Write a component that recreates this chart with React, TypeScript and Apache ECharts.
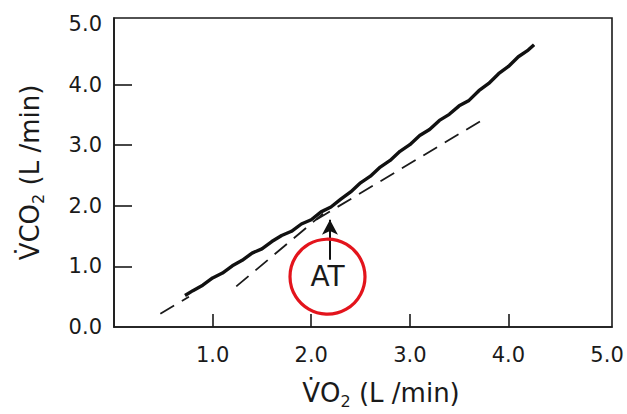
import React, { useEffect, useRef } from "react";
import * as echarts from "echarts";

// Measured VO2 / VCO2 trace (L/min)
const vo2 = [0.72, 0.8, 0.9, 1.0, 1.1, 1.2, 1.3, 1.4, 1.5, 1.6, 1.7, 1.8, 1.9, 2.0, 2.1, 2.2, 2.3, 2.4, 2.5, 2.6, 2.7, 2.8, 2.9, 3.0, 3.1, 3.2, 3.3, 3.4, 3.5, 3.6, 3.7, 3.8, 3.9, 4.0, 4.1, 4.2, 4.26];
const vco2 = [0.52, 0.6, 0.69, 0.81, 0.89, 1.01, 1.1, 1.22, 1.29, 1.41, 1.51, 1.58, 1.7, 1.77, 1.9, 1.98, 2.11, 2.23, 2.38, 2.49, 2.64, 2.75, 2.9, 3.01, 3.16, 3.26, 3.41, 3.51, 3.65, 3.74, 3.9, 4.02, 4.18, 4.3, 4.46, 4.57, 4.66];

// Lower-slope regression line (visible parts)
const fit1aX = [0.47, 0.76];
const fit1aY = [0.22, 0.5];
const fit1bX = [2.05, 3.76];
const fit1bY = [1.77, 3.44];
// Upper-slope regression line extended below AT
const fit2X = [1.24, 2.12];
const fit2Y = [0.67, 1.87];

// AT annotation (data units)
const atX = 2.19;
const atArrowFrom = 1.11;
const atArrowTo = 1.77;
const atCircle = [2.165, 0.83];

const yLabels = [0, 1, 2, 3, 4, 5];
const yTicks = [1, 2, 3, 4];
const xLabels = [1, 2, 3, 4, 5];
const xTicks = [1, 2, 3, 4];

const pairs = (xs: number[], ys: number[]) => xs.map((x, i) => [x, ys[i]]);

const FONT = "DejaVu Sans, Liberation Sans, Arial, sans-serif";
const INK = "#1a1a1a";

const richName = {
  d: { fontSize: 26, fontFamily: FONT, color: INK, lineHeight: 32 },
  n: { fontSize: 26, fontFamily: FONT, color: INK, lineHeight: 32 },
  s: { fontSize: 16, fontFamily: FONT, color: INK, lineHeight: 16, verticalAlign: "bottom" },
};

export default function App() {
  const ref = useRef<HTMLDivElement>(null);
  useEffect(() => {
    if (!ref.current) return;
    const chart = echarts.init(ref.current, undefined, { renderer: "svg" });
    chart.setOption({
      animation: false,
      backgroundColor: "#ffffff",
      grid: {
        left: 114,
        right: 15,
        top: 18,
        bottom: 84,
        show: true,
        borderColor: INK,
        borderWidth: 1.6,
        containLabel: false,
      },
      xAxis: {
        type: "value",
        min: 0,
        max: 5.05,
        interval: 1,
        name: "{d|V\u0307}{n|O}{s|2}{n| (L /min)}",
        nameLocation: "middle",
        nameGap: 50,
        nameTextStyle: { rich: richName, padding: [0, 0, 0, 36] },
        axisLine: { show: true, lineStyle: { color: INK, width: 1.6 } },
        axisTick: {
          show: true,
          inside: true,
          length: 13,
          customValues: xTicks,
          lineStyle: { color: INK, width: 1.6 },
        },
        axisLabel: {
          customValues: xLabels,
          margin: 17,
          fontSize: 21,
          fontFamily: FONT,
          color: INK,
          formatter: (v: number) => v.toFixed(1),
        },
        splitLine: { show: false },
      },
      yAxis: {
        type: "value",
        min: 0,
        max: 5.1,
        interval: 1,
        name: "{d|V\u0307}{n|CO}{s|2}{n| (L /min)}",
        nameLocation: "middle",
        nameGap: 68,
        nameTextStyle: { rich: richName },
        axisLine: { show: true, lineStyle: { color: INK, width: 1.6 } },
        axisTick: {
          show: true,
          inside: true,
          length: 18,
          customValues: yTicks,
          lineStyle: { color: INK, width: 1.6 },
        },
        axisLabel: {
          customValues: yLabels,
          margin: 12,
          fontSize: 21,
          fontFamily: FONT,
          color: INK,
          formatter: (v: number) => v.toFixed(1),
        },
        splitLine: { show: false },
      },
      series: [
        {
          type: "line",
          data: pairs(fit1aX, fit1aY),
          symbol: "none",
          lineStyle: { color: INK, width: 1.8, type: [16, 9] },
          z: 2,
        },
        {
          type: "line",
          data: pairs(fit1bX, fit1bY),
          symbol: "none",
          lineStyle: { color: INK, width: 1.8, type: [16, 9] },
          z: 2,
        },
        {
          type: "line",
          data: pairs(fit2X, fit2Y),
          symbol: "none",
          lineStyle: { color: INK, width: 1.8, type: [16, 9] },
          z: 2,
        },
        {
          type: "line",
          data: pairs(vo2, vco2),
          symbol: "none",
          lineStyle: { color: "#111", width: 3.4 },
          z: 3,
          markLine: {
            silent: true,
            symbol: ["none", "arrow"],
            symbolSize: [12, 15],
            label: { show: false },
            lineStyle: { color: "#111", width: 2, type: "solid" },
            data: [[{ coord: [atX, atArrowFrom] }, { coord: [atX, atArrowTo] }]],
          },
          markPoint: {
            silent: true,
            symbol: "circle",
            symbolSize: 75,
            itemStyle: { color: "rgba(255,255,255,0)", borderColor: "#e3141c", borderWidth: 3.2 },
            label: {
              show: true,
              position: "inside",
              formatter: "AT",
              fontSize: 28,
              fontFamily: FONT,
              color: INK,
            },
            data: [{ coord: atCircle }],
          },
        },
      ],
    });
    return () => chart.dispose();
  }, []);
  return (
    <div
      ref={ref}
      style={{ position: "fixed", left: 0, top: 0, width: 627, height: 414, background: "#fff" }}
    />
  );
}
